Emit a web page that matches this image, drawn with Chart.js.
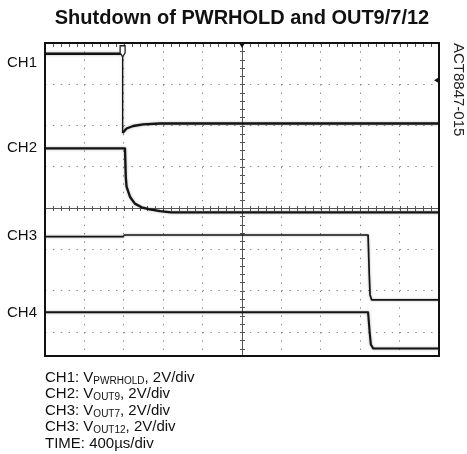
<!DOCTYPE html>
<html><head><meta charset="utf-8">
<script src="https://cdn.jsdelivr.net/npm/chart.js@4/dist/chart.umd.min.js"></script>
<style>
html,body{margin:0;padding:0;background:#fff;}
#wrap{position:relative;width:467px;height:454px;overflow:hidden;}
canvas{position:absolute;left:0;top:0;}
#notes{position:absolute;left:45px;top:369px;font-family:"Liberation Sans",Arial,Helvetica,sans-serif;font-size:15px;line-height:16.4px;color:#111;white-space:nowrap;}
#notes .s{font-size:10px;vertical-align:-2px;line-height:0;}
</style></head><body>
<div id="wrap"><canvas id="c" width="467" height="454"></canvas><div id="notes"></div></div>
<script>
// ---- text ----
const titleText = 'Shutdown of PWRHOLD and OUT9/7/12';
const sideLabel = 'ACT8847-015';
const channelNames = ['CH1', 'CH2', 'CH3', 'CH4'];
const channelLabelLevels = [3.51, 1.45, -0.68, -2.54];   // divisions
const noteLines = [
  ['CH1: V', 'PWRHOLD', ', 2V/div'],
  ['CH2: V', 'OUT9', ', 2V/div'],
  ['CH3: V', 'OUT7', ', 2V/div'],
  ['CH3: V', 'OUT12', ', 2V/div'],
  ['TIME: 400\u00b5s/div', '', '']
];
// ---- screen (divisions) ----
const timeMin = -5, timeMax = 5;
const levelMin = -3.58, levelMax = 4;
const triggerTime = -3.03;
const triggerLevel = 3.1;
// ---- traces (x: time in divisions, y: level in divisions) ----
const ch1Time  = [-5, -3.03, -3.03, -2.93, -2.76, -2.51, -2.08, 5];
const ch1Volts = [3.74, 3.74, 1.82, 1.93, 1.99, 2.03, 2.05, 2.05];
const ch2Time  = [-5, -2.97, -2.95, -2.93, -2.84, -2.72, -2.55, -2.34, -2.08, -1.8, 5];
const ch2Volts = [1.45, 1.45, 0.76, 0.52, 0.27, 0.11, 0.02, -0.03, -0.07, -0.1, -0.1];
const ch3Time  = [-5, -3.0, -3.0, 3.2, 3.23, 3.25, 3.29, 5];
const ch3Volts = [-0.69, -0.69, -0.65, -0.65, -1.6, -2.1, -2.22, -2.22];
const ch4Time  = [-5, 3.2, 3.24, 3.27, 3.33, 5];
const ch4Volts = [-2.52, -2.52, -3.0, -3.3, -3.4, -3.4];

const FONT = '"Liberation Sans", Arial, Helvetica, sans-serif';

// notes below the screen
const notes = document.getElementById('notes');
noteLines.forEach(([a, s, b]) => {
  const d = document.createElement('div');
  d.appendChild(document.createTextNode(a));
  if (s) { const sp = document.createElement('span'); sp.className = 's'; sp.textContent = s; d.appendChild(sp); }
  if (b) d.appendChild(document.createTextNode(b));
  notes.appendChild(d);
});

const pts = (xs, ys) => xs.map((x, i) => ({x, y: ys[i]}));
const trace = (label, xs, ys, w) => ({
  label, data: pts(xs, ys), borderColor: '#141414', borderWidth: w, pointRadius: 0,
  tension: 0, fill: false, borderJoinStyle: 'round', borderCapStyle: 'butt', showLine: true,
  segment: { borderWidth: c => (c.p0.parsed.x === c.p1.parsed.x ? 1 : w) }
});

const isZero = c => c.tick && Math.abs(c.tick.value) < 1e-9;
const gridDash = (period) => (c => isZero(c) ? [] : [1.4, period - 1.4]);
const gridColor = c => isZero(c) ? '#555' : '#888';

const scopePlugin = {
  id: 'scope',
  beforeDatasetsDraw(chart) {
    const {ctx, chartArea: a, scales: {x, y}} = chart;
    ctx.save();
    ctx.strokeStyle = '#555';
    ctx.lineWidth = 1;
    const x0 = Math.round(x.getPixelForValue(0)) + 0.5;
    const y0 = Math.round(y.getPixelForValue(0)) + 0.5;
    ctx.beginPath();
    for (let v = timeMin; v <= timeMax + 1e-9; v += 0.2) {
      const px = Math.round(x.getPixelForValue(v)) + 0.5;
      ctx.moveTo(px, y0 - 2.5); ctx.lineTo(px, y0 + 2.5);
      ctx.moveTo(px, a.top); ctx.lineTo(px, a.top + 4);
    }
    for (let v = 0; v <= levelMax + 1e-9; v += 0.2) {
      const py = Math.round(y.getPixelForValue(v)) + 0.5;
      ctx.moveTo(x0 - 2.5, py); ctx.lineTo(x0 + 2.5, py);
    }
    for (let v = -0.2; v >= levelMin; v -= 0.2) {
      const py = Math.round(y.getPixelForValue(v)) + 0.5;
      ctx.moveTo(x0 - 2.5, py); ctx.lineTo(x0 + 2.5, py);
    }
    ctx.stroke();
    ctx.restore();
  },
  beforeDatasetDraw(chart) {
    const ctx = chart.ctx; ctx.save();
    ctx.shadowColor = 'rgba(0,0,0,0.35)'; ctx.shadowBlur = 2.5;
  },
  afterDatasetDraw(chart) { chart.ctx.restore(); },
  afterDatasetsDraw(chart) {
    const {ctx, chartArea: a, scales: {x, y}} = chart;
    ctx.save();
    ctx.strokeStyle = '#111'; ctx.lineWidth = 2;
    ctx.strokeRect(a.left, a.top, a.right - a.left, a.bottom - a.top);
    ctx.fillStyle = '#111';
    const xc = x.getPixelForValue(0);
    ctx.beginPath(); ctx.moveTo(xc - 3, a.top); ctx.lineTo(xc + 3, a.top); ctx.lineTo(xc, a.top + 5); ctx.closePath(); ctx.fill();
    const yt = y.getPixelForValue(triggerLevel);
    ctx.beginPath(); ctx.moveTo(a.right, yt - 3); ctx.lineTo(a.right, yt + 3); ctx.lineTo(a.right - 5, yt); ctx.closePath(); ctx.fill();
    const px = x.getPixelForValue(triggerTime), py = y.getPixelForValue(ch1Volts[0]);
    ctx.beginPath();
    ctx.moveTo(px - 2.5, py - 8); ctx.lineTo(px + 2.5, py - 8); ctx.lineTo(px + 2.5, py - 1);
    ctx.lineTo(px, py + 3); ctx.lineTo(px - 2.5, py - 1); ctx.closePath();
    ctx.fillStyle = '#fff'; ctx.fill();
    ctx.lineWidth = 1.3; ctx.strokeStyle = '#222'; ctx.stroke();
    ctx.restore();
  }
};

new Chart(document.getElementById('c'), {
  type: 'scatter',
  data: {
    datasets: [
      trace('CH1', ch1Time, ch1Volts, 2.3),
      trace('CH2', ch2Time, ch2Volts, 2.3),
      trace('CH3', ch3Time, ch3Volts, 1.7),
      trace('CH4', ch4Time, ch4Volts, 2.1)
    ]
  },
  options: {
    responsive: false,
    animation: false,
    events: [],
    layout: { padding: 0 },
    plugins: {
      legend: { display: false },
      tooltip: { enabled: false },
      title: {
        display: true, text: titleText, fullSize: false, color: '#111',
        font: { family: FONT, size: 20, weight: 'bold' },
        padding: { top: 6, bottom: 13 }
      }
    },
    scales: {
      x: {
        type: 'linear', position: 'bottom', min: timeMin, max: timeMax,
        ticks: { display: false, stepSize: 1 },
        grid: { color: gridColor, lineWidth: 1, drawTicks: false },
        border: { display: false, dash: gridDash(8.26) },
        afterFit: s => { s.height = 98; }
      },
      y: {
        type: 'linear', position: 'left', min: levelMin, max: levelMax,
        ticks: { display: false, stepSize: 1 },
        grid: { color: gridColor, lineWidth: 1, drawTicks: false },
        border: { display: false, dash: gridDash(7.88) },
        afterFit: s => { s.width = 0; }
      },
      names: {
        type: 'linear', position: 'left', min: levelMin, max: levelMax,
        grid: { display: false, drawTicks: false },
        border: { display: false },
        ticks: {
          padding: 8, color: '#111', autoSkip: false,
          font: { family: FONT, size: 15 },
          callback: (v, i) => channelNames[i]
        },
        afterBuildTicks: s => { s.ticks = channelLabelLevels.map(v => ({value: v})); },
        afterFit: s => { s.width = 45; }
      },
      side: {
        type: 'linear', position: 'right', min: 0, max: 1,
        grid: { display: false, drawTicks: false },
        border: { display: false },
        ticks: { display: false },
        title: {
          display: true, text: sideLabel, align: 'end', color: '#222',
          font: { family: FONT, size: 15 }, padding: { top: 0, bottom: 0 }
        },
        afterFit: s => { s.width = 28; }
      }
    }
  },
  plugins: [scopePlugin]
});
</script>
</body></html>
